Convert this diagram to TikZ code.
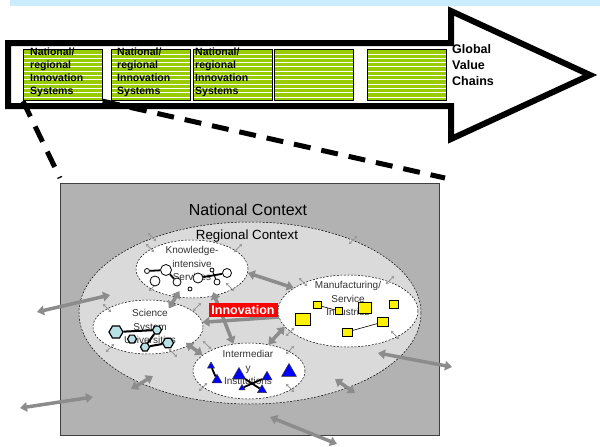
\documentclass[tikz,border=0pt]{standalone}
\usepackage{fontspec}
\setmainfont{Liberation Sans}
\usetikzlibrary{shapes.geometric,arrows.meta,positioning}

\definecolor{bandblue}{HTML}{CCECFF}
\definecolor{gvcgreen}{HTML}{99CC00}
\definecolor{natgray}{HTML}{B2B2B2}
\definecolor{reggray}{HTML}{DADADA}
\definecolor{linkgray}{HTML}{8C8C8C}
\definecolor{tinygray}{HTML}{999999}
\definecolor{hexblue}{HTML}{B7E1E4}
\definecolor{labelgray}{HTML}{333333}

\begin{document}
\begin{tikzpicture}[x=1pt,y=-1pt]
        \tikzset{sysbox/.style={draw,line width=1.2pt,fill=gvcgreen,minimum width=78.5pt,minimum height=51pt,
                anchor=north west,inner sep=0pt,
                path picture={\foreach \k in {1,...,11}
                    \draw[white,line width=0.7pt] ([yshift=-\k*4.3pt]path picture bounding box.north west)
                        -- ([yshift=-\k*4.3pt]path picture bounding box.north east);}},
            systext/.style={anchor=north west,inner sep=0pt,align=left,font=\fontsize{10.5}{13}\selectfont\bfseries},
            gvctext/.style={anchor=north west,inner sep=0pt,align=left,font=\fontsize{12.5}{16}\selectfont\bfseries},
            zoomline/.style={line width=5pt,dash pattern=on 17pt off 11pt},
            natrect/.style={draw=black!75,line width=0.8pt,fill=natgray,minimum width=379pt,minimum height=252pt,inner sep=0pt},
            regionell/.style={ellipse,draw,dash pattern=on 2pt off 1.5pt,line width=0.5pt,fill=reggray,
                minimum width=342pt,minimum height=182pt,inner sep=0pt},
            sphere/.style={ellipse,draw,dash pattern=on 2pt off 1.5pt,line width=0.5pt,fill=white,inner sep=0pt},
            sphtext/.style={align=center,inner sep=0pt,text=labelgray,font=\fontsize{10}{13.5}\selectfont},
            link/.style={draw=linkgray,line width=3.5pt,{Triangle[length=7pt,width=9.5pt]}-{Triangle[length=7pt,width=9.5pt]}},
            linkone/.style={draw=linkgray,line width=3.5pt,-{Triangle[length=7pt,width=9.5pt]}},
            tiny/.style={draw=tinygray,line width=0.8pt,{Stealth[length=3pt,width=3pt]}-{Stealth[length=3pt,width=3pt]}},
            dot/.style={circle,draw,fill=white,line width=0.8pt,inner sep=0pt},
            hexa/.style={regular polygon,regular polygon sides=6,draw,fill=hexblue,line width=1.2pt,inner sep=0pt},
            sq/.style={rectangle,draw,fill=yellow,line width=0.6pt,inner sep=0pt},
            tri/.style={regular polygon,regular polygon sides=3,draw=black!80,fill=blue,line width=0.5pt,inner sep=0pt},
            innov/.style={fill=red,text=white,inner sep=0pt,minimum width=69pt,minimum height=14pt,
                font=\fontsize{12.5}{14}\selectfont\bfseries}}
        \useasboundingbox (0,0) rectangle (600,447);
        \fill[bandblue] (10,0) rectangle (600,6);
        \draw[line width=6pt,fill=white,miter limit=12] (8,43) -- (451,43) -- (451,11) -- (590,75)
            -- (451,139) -- (451,106) -- (8,106) -- cycle;
        \foreach \b/\x in {sys1/23,sys2/111,sys3/193,sys4/274,sys5/367}
            \node[sysbox] (\b) at (\x,49) {};
        \foreach \b/\dx in {sys1/7pt,sys2/6pt,sys3/2pt}
            \node[systext,below right=-1.1pt and \dx of \b.north west] (\b-txt) {National/\\regional\\Innovation\\Systems};
        \node[gvctext] (gvc) at (452,44.5) {Global\\Value\\Chains};
        \coordinate (zoomL) at (60,178);
        \coordinate (zoomR) at (445,178);
        \draw[zoomline] (sys1.south west) -- (zoomL);
        \draw[zoomline] (sys1.south east) -- (zoomR);
        \node[natrect] (natbox) at (249.5,309) {};
        \node[regionell] (region) at (250,313) {};
        \node[font=\fontsize{16}{19}\selectfont] (natlbl) at (248,210) {National Context};
        \node[sphere,minimum width=112pt,minimum height=58pt] (know) at (192,269) {};
        \node[sphere,minimum width=110pt,minimum height=54pt] (sci) at (148,327) {};
        \node[sphere,minimum width=140pt,minimum height=72pt] (manu) at (348,311) {};
        \node[sphere,minimum width=112pt,minimum height=56pt] (inter) at (249,371) {};
        \node[font=\fontsize{13.3}{16}\selectfont] (reglbl) at (247,236) {Regional Context};
        \foreach \x/\y/\a in {152/237/45,150/248/45,238/248/-45,353/240/-45,390/280/-45,303/282/45,
                107/308/45,197/307/-45,153/287/-45,230/287/45,290/332/-45,395/335/45,
                207/345/45,173/353/45,110/348/-45,203/387/-45,290/388/45,290/350/-45}
            \draw[tiny] (\x,\y) ++(\a:-6) -- ++(\a:12);
        \draw[link] (know.-4) -- (manu.157);
        \draw[link,shorten <=-7pt,shorten >=-7pt] (know.240) -- (sci.45);
        \draw[link,shorten <=-4pt] (know.310) -- (inter.120);
        \draw[linkone] (manu.185) -- (sci.5);
        \draw[link] (manu.194) -- (inter.54);
        \draw[link,shorten <=-4pt] (sci.-24) -- (inter.161);
        \foreach \n/\ax/\ay/\bx/\by in {o1/37/312/110/295,o2/20/408/93/397,o3/131/389/153/376,
                o4/378/353/452/367,o5/270/417/337/444,o6/335/379/355/393}
        {
            \coordinate (\n-a) at (\ax,\ay);
            \coordinate (\n-b) at (\bx,\by);
            \draw[link] (\n-a) -- (\n-b);
        }
        \node[sphtext] (knowtxt) at (192,263.5) {Knowledge-\\intensive\\Services};
        \node[sphtext] (scitxt) at (150,326.5) {Science\\System\\Universities};
        \node[sphtext] (manutxt) at (348,298.5) {Manufacturing/\\Service\\Industries};
        \node[sphtext] (intertxt) at (248,367.5) {Intermediar\\y\\Institutions};
        \foreach \n/\x/\y/\d in {k1/147/271/5,k2/166/270/11,k3/155/281/10,k4/177/282/8,k5/190/289/4,
                k6/198/278/10,k7/212/270/4,k8/217/282/6,k9/227/273/9}
            \node[dot,minimum size=\d pt] (\n) at (\x,\y) {};
        \draw[line width=1.8pt] (k1) -- (k2) -- (k4);
        \draw[line width=1.8pt] (k6) -- (k9);
        \draw[line width=1pt] (k7) -- (k8);
        \foreach \n/\x/\y/\d in {s1/116/332/14,s2/132/339/9,s3/157/330/9,s4/145/347/9,s5/168/343/11}
            \node[hexa,minimum size=\d pt] (\n) at (\x,\y) {};
        \draw[line width=2pt] (s1) -- (s3) -- (s4) -- (s5);
        \foreach \n/\x/\y/\w/\h in {m1/317/305/8/7.5,m2/339/311/7/6.5,m3/365/308/13/11,m4/394/304/9/8,
                m5/303/319/14.5/12,m6/383/322/11/9,m7/347/332/10/8}
            \node[sq,minimum width=\w pt,minimum height=\h pt] (\n) at (\x,\y) {};
        \draw[line width=0.6pt] (m1) -- (m2);
        \draw[line width=0.6pt] (m7) -- (m6);
        \foreach \n/\x/\y/\d in {t1/211/366/8,t2/217/380/11.5,t3/239/375/15,t4/267/377/11.5,
                t5/289/372/17,t6/242/388/7,t7/262/390/10.5}
            \node[tri,minimum size=\d pt] (\n) at (\x,\y) {};
        \draw[line width=1.8pt] (t1) -- (t2);
        \draw[line width=1.8pt] (t6) -- (t4);
        \draw[line width=1.8pt] (t3) -- (t7);
        \node[innov] (innov) at (243,310) {Innovation};
    \end{tikzpicture}
\end{document}
